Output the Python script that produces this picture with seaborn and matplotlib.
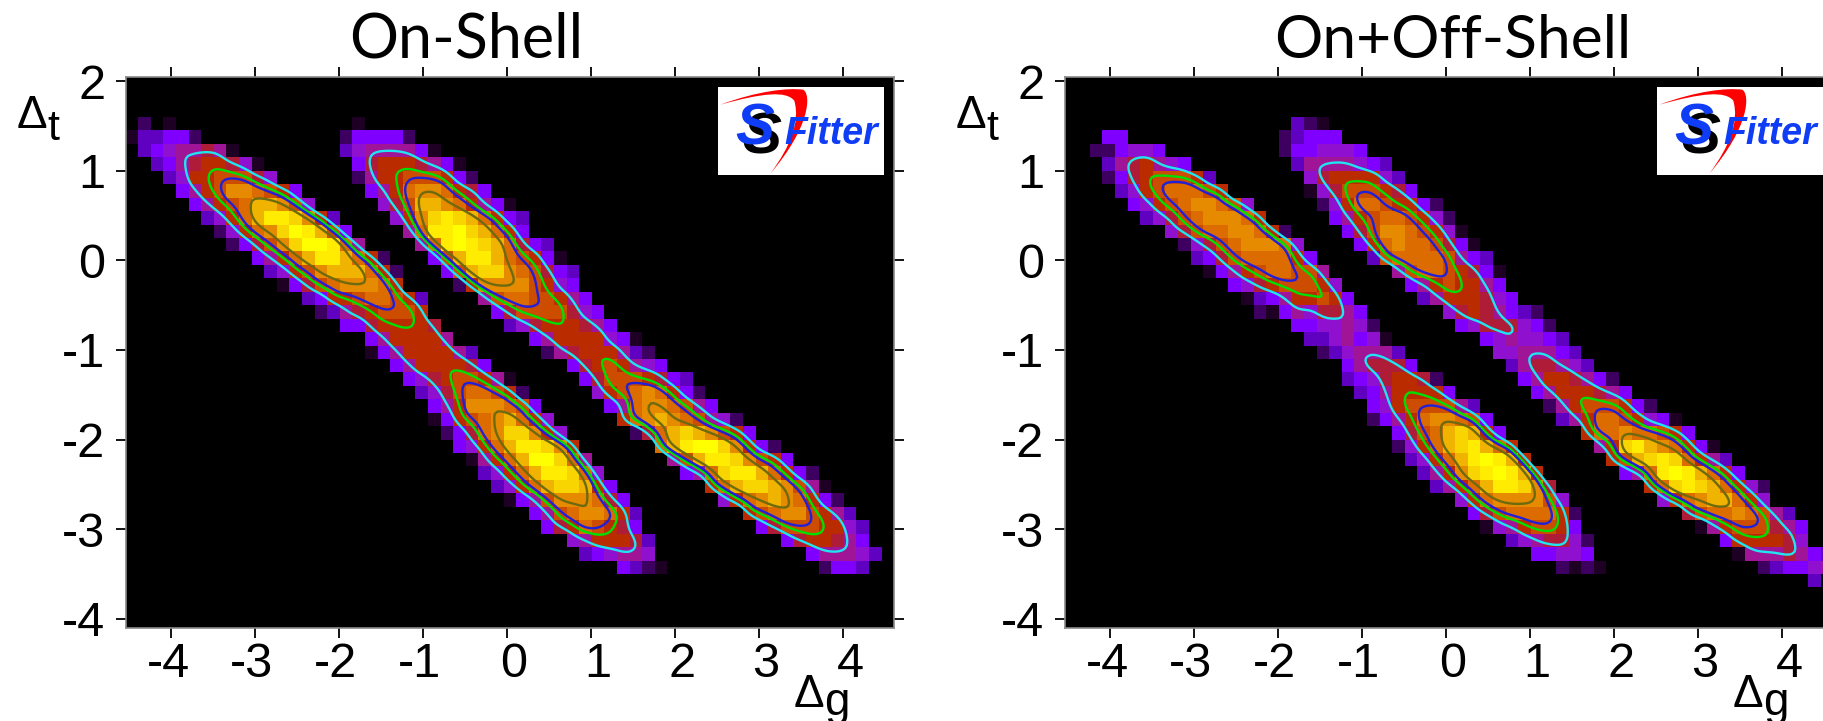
import numpy as np
import seaborn as sns
import matplotlib
matplotlib.use("Agg")
import matplotlib.pyplot as plt
from matplotlib.colors import ListedColormap
from matplotlib.patches import Rectangle, PathPatch
from matplotlib.path import Path
from matplotlib.transforms import ScaledTranslation

TITLES = ["On-Shell", "On+Off-Shell"]
X_TICKS = [-4, -3, -2, -1, 0, 1, 2, 3, 4]
Y_TICKS = [-4, -3, -2, -1, 0, 1, 2]
X_START, Y_START, BIN = -4.54, 2.05, 0.15
N_COLS, N_ROWS, FIRST_ROW = 61, 41, 3

# Histogram level (hex digit 0-f) per bin, row by row: (first column, levels)
ON_SHELL = [
    [(1, "2"), (3, "1"), (18, "1")],
    [(0, "133442"), (17, "244442")],
    [(1, "34566761"), (17, "35666641")],
    [(2, "346788751"), (18, "478887641")],
    [(3, "358899975"), (18, "2688999842")],
    [(4, "4689bba984"), (19, "468abba874")],
    [(5, "4689accb95"), (20, "579ccba8641")],
    [(6, "358aceedb83"), (21, "58bdedca843")],
    [(7, "258abdfec94"), (22, "6aeefdca84")],
    [(8, "2479bdffea6"), (23, "6aefedca743")],
    [(10, "468aceeca82"), (24, "49ceeca9841")],
    [(11, "3589bccca82"), (25, "49cddba9743")],
    [(12, "1479abbba8"), (26, "28bbbb9854")],
    [(14, "34889aa983"), (28, "69aa99864")],
    [(15, "236789998"), (29, "479999754")],
    [(17, "44788887"), (30, "357888764")],
    [(19, "4688886"), (32, "468888541")],
    [(19, "146888863"), (33, "267888632")],
    [(21, "46888874"), (35, "47898654")],
    [(22, "457899861"), (36, "479998743")],
    [(23, "3579aa982"), (37, "589aba842")],
    [(24, "468bbba94"), (38, "46abba964")],
    [(24, "1489abca85"), (39, "8abcba9652")],
    [(25, "247abddb85"), (40, "27acdcb984")],
    [(26, "458aceedb8"), (42, "aceffdb842")],
    [(27, "168acffda6"), (43, "69ceedb984")],
    [(28, "358aceeda5"), (44, "46adeeca842")],
    [(29, "358acddc84"), (46, "8acddcb961")],
    [(30, "1469bbba74"), (47, "58abcba842")],
    [(32, "469abba83"), (49, "89abb9863")],
    [(33, "478a9874"), (50, "479998853")],
    [(35, "5688873"), (52, "4788764")],
    [(36, "345665"), (54, "466653")],
    [(39, "4321"), (55, "2443")],
]
ON_OFF_SHELL = [
    [(18, "321")],
    [(3, "44"), (17, "23444")],
    [(2, "224554"), (17, "2445554")],
    [(3, "3678654"), (18, "36666543")],
    [(3, "247899983"), (19, "57888853")],
    [(4, "3589aaa98"), (19, "157999874")],
    [(5, "4589abba95"), (20, "258aa98842")],
    [(6, "3579abbba8"), (21, "4689aa9852")],
    [(8, "579aabba82"), (22, "479bba9851")],
    [(9, "2579abbba5"), (23, "48abaa9741")],
    [(10, "3479aaaa84"), (24, "39aaaa9643")],
    [(11, "14689aa996"), (26, "69aa98741")],
    [(13, "457899985"), (27, "46898864")],
    [(14, "134688984"), (28, "36888754")],
    [(15, "214657764"), (30, "57876432")],
    [(18, "4455652"), (31, "45777542")],
    [(19, "3356451"), (33, "4565543")],
    [(20, "2356663"), (34, "5566643")],
    [(22, "467774"), (35, "3677653")],
    [(22, "34578872"), (36, "46887642")],
    [(23, "34688884"), (37, "46888764")],
    [(24, "458999963"), (38, "268999842")],
    [(24, "2468abba94"), (39, "368aa98541")],
    [(26, "479acdc84"), (41, "8aabaa984")],
    [(26, "258acdeca8"), (42, "68decba841")],
    [(27, "358acefec8"), (43, "89cdeda863")],
    [(28, "368bdefec8"), (44, "46aefeca84")],
    [(29, "368aceedb7"), (46, "8adedca852")],
    [(31, "58abbbb95"), (47, "58abcca85")],
    [(32, "479aaaa82"), (49, "79aaba963")],
    [(33, "15689984"), (50, "168999764")],
    [(35, "3567752"), (52, "4888875")],
    [(37, "44554"), (53, "16667643")],
    [(39, "2121"), (55, "234456")],
    [(59, "3")],
]
PALETTE = ["#000000", "#1e0024", "#3e0060", "#6000c0", "#8000ff", "#9010d0",
           "#a01498", "#ae1c38", "#ba2c00", "#cc4c00", "#dc6c00", "#e68a00",
           "#f0b400", "#f8d400", "#ffec00", "#ffff00"]
CONTOUR_LEVELS = [6.0, 8.1, 9.0, 10.8]
CONTOUR_COLORS = ["#20e4f0", "#00e000", "#2020d8", "#6e6a10"]

W, H = 1824, 721
PANEL_LEFT = [125.6, 1064.6]
PANEL_TOP, CELL_W, CELL_H = 76.7, 12.6, 13.44


def to_grid(rows):
    grid = np.zeros((N_ROWS, N_COLS))
    for r, segments in enumerate(rows):
        for col, levels in segments:
            for k, ch in enumerate(levels):
                grid[FIRST_ROW + r, col + k] = int(ch, 16)
    return grid


def smooth(grid, factor=5, passes=4, width=5):
    big = np.kron(grid, np.ones((factor, factor)))
    kernel = np.ones(width) / width
    for _ in range(passes):
        big = np.apply_along_axis(lambda v: np.convolve(v, kernel, mode="same"), 0, big)
        big = np.apply_along_axis(lambda v: np.convolve(v, kernel, mode="same"), 1, big)
    return big


sns.set_theme(style="white")
plt.rcParams["font.family"] = ["Liberation Sans", "DejaVu Sans"]
plt.rcParams["text.color"] = "black"
plt.rcParams["xtick.labelcolor"] = "black"
plt.rcParams["ytick.labelcolor"] = "black"
fig = plt.figure(figsize=(W / 100, H / 100), dpi=100)
cmap = ListedColormap(PALETTE)
factor = 5

def fx(px):
    return px / W

def fy(py):
    return 1 - py / H


for i, (rows, title) in enumerate(zip([ON_SHELL, ON_OFF_SHELL], TITLES)):
    left = PANEL_LEFT[i]
    ax = fig.add_axes([fx(left), fy(PANEL_TOP + N_ROWS * CELL_H),
                       N_COLS * CELL_W / W, N_ROWS * CELL_H / H])
    grid = to_grid(rows)
    sns.heatmap(grid, cmap=cmap, vmin=-0.5, vmax=15.5, cbar=False, ax=ax,
                xticklabels=False, yticklabels=False)
    big = smooth(grid, factor)
    xs = (np.arange(big.shape[1]) + 0.5) / factor
    ys = (np.arange(big.shape[0]) + 0.5) / factor
    ax.contour(xs, ys, big, levels=CONTOUR_LEVELS, colors=CONTOUR_COLORS, linewidths=1.7)

    ax.set_xticks([(v - X_START) / BIN for v in X_TICKS])
    ax.set_xticklabels([str(v) for v in X_TICKS], fontsize=35, color="black")
    ax.set_yticks([(Y_START - v) / BIN for v in Y_TICKS])
    ax.set_yticklabels([str(v) for v in Y_TICKS], fontsize=35, color="black")
    ax.tick_params(axis="both", which="major", direction="out", length=7.2, width=1.3,
                   color="black", top=True, right=True, bottom=True, left=True)
    ax.tick_params(axis="x", pad=3)
    ax.tick_params(axis="y", pad=7.5)
    for lab, v in zip(ax.get_xticklabels(), X_TICKS):
        dx = 7 if v >= 0 else -3
        lab.set_transform(lab.get_transform() + ScaledTranslation(dx / 100, 0, fig.dpi_scale_trans))
    for s in ax.spines.values():
        s.set_visible(True)
        s.set_color("#8a8a8a")
        s.set_linewidth(1.2)

    offset = PANEL_LEFT[i] - PANEL_LEFT[0]
    title_x = 466 if i == 0 else 1453
    fig.text(fx(title_x), fy(58), title, ha="center", va="baseline",
             fontsize=44 if i == 0 else 43.5,
             family=["Lato", "DejaVu Sans"], color="black")
    fig.text(fx(17 + offset), fy(128), "\u0394", fontsize=33, ha="left", va="baseline")
    fig.text(fx(47 + offset), fy(140), "t", fontsize=31, ha="left", va="baseline")
    fig.text(fx(794 + offset), fy(707), "\u0394", fontsize=33, ha="left", va="baseline")
    fig.text(fx(824 + offset), fy(715), "g", fontsize=33, ha="left", va="baseline")

    # S-Fitter logo, laid out in pixels from its box corner
    lx, ly = 718.3 + offset, 86.7
    def L(px, py):
        return (fx(lx + px), fy(ly + py))
    fig.add_artist(Rectangle(L(0, 88.3), 166 / W, 88.3 / H, transform=fig.transFigure,
                             facecolor="white", edgecolor="none", zorder=5))
    verts = [L(2, 18),
             L(40, 4), L(70, 1), L(85, 3),
             L(93, 8), L(92, 40), L(52, 87),
             L(72, 60), L(82, 35), L(76, 14),
             L(68, 4), L(45, 6), L(2, 18)]
    codes = [Path.MOVETO] + [Path.CURVE4] * 12
    fig.add_artist(PathPatch(Path(verts, codes), transform=fig.transFigure, facecolor="#ff0000",
                             edgecolor="none", zorder=6))
    fig.text(*L(24, 67), "S", color="black", fontsize=42, weight="bold", style="italic",
             family=["Liberation Sans"], ha="left", va="baseline", zorder=7)
    fig.text(*L(17, 58), "S", color="#0f3cf5", fontsize=42, weight="bold", style="italic",
             family=["Liberation Sans"], ha="left", va="baseline", zorder=8)
    fig.text(*L(66, 57), "Fitter", color="#0f3cf5", fontsize=27, weight="bold", style="italic",
             family=["Liberation Sans"], ha="left", va="baseline", zorder=9)

fig.savefig("out.png", dpi=100)
